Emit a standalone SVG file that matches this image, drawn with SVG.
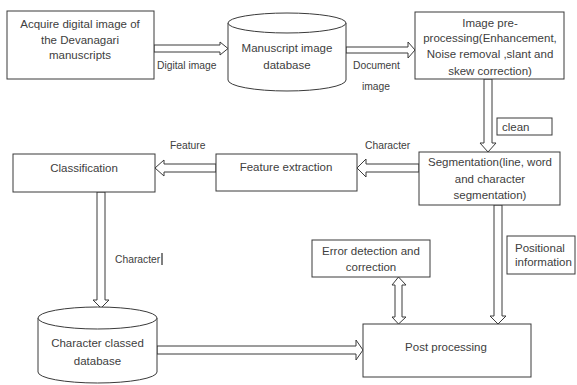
<svg xmlns="http://www.w3.org/2000/svg" width="577" height="385" viewBox="0 0 577 385">
<style>
.box{fill:#fff;stroke:#3a3a3a;stroke-width:1}
.cyl{fill:#fff;stroke:#3a3a3a;stroke-width:1}
.t{font-family:"Liberation Sans",Arial,sans-serif;font-size:11.5px;fill:#404040;text-anchor:middle}
.l{font-family:"Liberation Sans",Arial,sans-serif;font-size:10.3px;fill:#404040}
.ar{fill:#fff;stroke:#3a3a3a;stroke-width:1;stroke-linejoin:miter}
</style>
<rect width="577" height="385" fill="#fff"/>
<g id="connectors">
<polygon class="ar" points="154,45 220,45 220,42 228,48.5 220,55 220,52 154,52"/>
<polygon class="ar" points="346,47 408,47 408,42 415,50 408,58 408,53 346,53"/>
<polygon class="ar" points="484,79 492,79 492,143 496,143 488,152 480,143 484,143"/>
<polygon class="ar" points="419,164 366,164 366,159 357,168 366,177 366,172 419,172"/>
<polygon class="ar" points="216,164 164,164 164,160 155,168 164,176 164,172 216,172"/>
<polygon class="ar" points="97,192 105,192 105,300 109,300 101,308 93,300 97,300"/>
<polygon class="ar" points="157,346 356,346 356,340 363,350 356,360 356,354 157,354"/>
<polygon class="ar" points="494,205 502,205 502,316 506,316 498,324 490,316 494,316"/>
<polygon class="ar" points="398.5,277 406,285 402,285 402,317 406,317 398.5,324 392,317 395,317 395,285 392,285"/>
<text class="l" x="157" y="69">Digital image</text>
<text class="l" x="353" y="69">Document</text>
<text class="l" x="362" y="90">image</text>
<text class="l" x="365" y="149">Character</text>
<text class="l" x="170" y="149">Feature</text>
<text class="l" x="115" y="263">Character</text>
<line x1="162" y1="253" x2="162" y2="265" stroke="#000" stroke-width="1"/>
</g>
<g id="acquire">
<rect class="box" x="7" y="11" width="147" height="68"/>
<text class="t" x="80" y="28">Acquire digital image of</text>
<text class="t" x="80" y="44">the Devanagari</text>
<text class="t" x="80" y="59">manuscripts</text>
</g>
<g id="manuscript-db">
<path class="cyl" d="M228,23 A59,10 0 0 1 346,23 L346,80 A59,11 0 0 1 228,80 Z"/>
<path class="cyl" fill="none" d="M228,23 A59,10 0 0 0 346,23"/>
<text class="t" x="287" y="52">Manuscript image</text>
<text class="t" x="287" y="69">database</text>
</g>
<g id="preprocessing">
<rect class="box" x="415" y="12" width="149" height="67"/>
<text class="t" x="490" y="27">Image pre-</text>
<text class="t" x="490" y="42">processing(Enhancement,</text>
<text class="t" x="490" y="58">Noise removal ,slant and</text>
<text class="t" x="490" y="75">skew correction)</text>
</g>
<g id="clean">
<rect class="box" x="497" y="118" width="55" height="17"/>
<text class="t" x="502" y="131" style="text-anchor:start">clean</text>
</g>
<g id="segmentation">
<rect class="box" x="419" y="152" width="141" height="53"/>
<text class="t" x="490" y="166">Segmentation(line, word</text>
<text class="t" x="490" y="183">and character</text>
<text class="t" x="490" y="199">segmentation)</text>
</g>
<g id="feature-extraction">
<rect class="box" x="216" y="154" width="141" height="37"/>
<text class="t" x="286" y="171">Feature extraction</text>
</g>
<g id="classification">
<rect class="box" x="13" y="154" width="142" height="38"/>
<text class="t" x="84" y="172">Classification</text>
</g>
<g id="character-db">
<path class="cyl" d="M38,318 A59.5,11 0 0 1 157,318 L157,372 A59.5,11 0 0 1 38,372 Z"/>
<path class="cyl" fill="none" d="M38,318 A59.5,11 0 0 0 157,318"/>
<text class="t" x="97.5" y="347">Character classed</text>
<text class="t" x="97.5" y="365">database</text>
</g>
<g id="error-detection">
<rect class="box" x="312" y="240" width="118" height="37"/>
<text class="t" x="371" y="255">Error detection and</text>
<text class="t" x="371" y="271">correction</text>
</g>
<g id="positional">
<rect class="box" x="507" y="236" width="68" height="38"/>
<text class="t" x="515" y="252" style="text-anchor:start">Positional</text>
<text class="t" x="515" y="266" style="text-anchor:start">information</text>
</g>
<g id="post-processing">
<rect class="box" x="363" y="324" width="168" height="53"/>
<text class="t" x="446" y="351">Post processing</text>
</g>
</svg>
